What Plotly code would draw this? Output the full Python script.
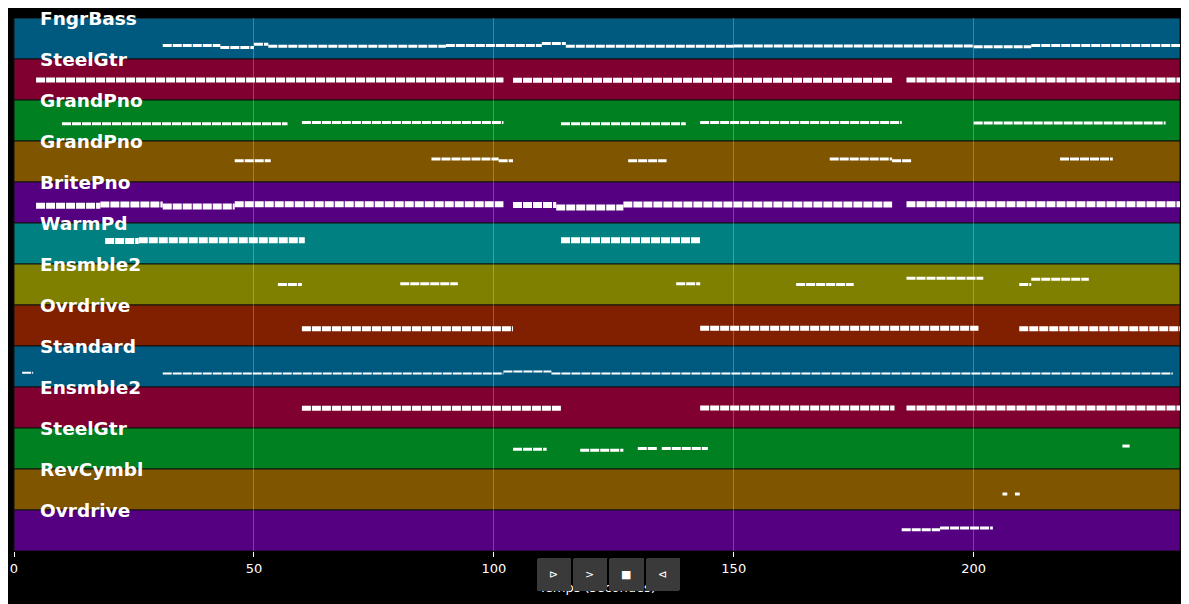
import plotly.graph_objects as go

### Data ---------------------------------------------------------

tracks = ["FngrBass", "SteelGtr", "GrandPno", "GrandPno", "BritePno", "WarmPd", "Ensmble2",
          "Ovrdrive", "Standard", "Ensmble2", "SteelGtr", "RevCymbl", "Ovrdrive"]
band_colors = ["#005a80", "#800030", "#008020", "#7f5500", "#550080", "#008080", "#808000",
               "#802000", "#005a80", "#800030", "#008020", "#7f5500", "#550080"]

# phrases per track: (start s, end s, pitch level inside band 0..1)
phrases = [
    [(31, 43, 0.33), (43, 50, 0.28), (50, 53, 0.36), (53, 90, 0.31), (90, 110, 0.33),
     (110, 115, 0.38), (115, 150, 0.31), (150, 200, 0.32), (200, 212, 0.30), (212, 243, 0.33)],
    [(4.6, 102, 0.49), (104, 183, 0.48), (186, 243, 0.49)],
    [(10, 57, 0.42), (60, 102, 0.45), (114, 140, 0.42), (143, 185, 0.45), (200, 240, 0.44)],
    [(46, 53.5, 0.52), (87, 101, 0.56), (101, 104, 0.52), (128, 136, 0.52), (170, 183, 0.56),
     (183, 187, 0.52), (218, 229, 0.56)],
    [(4.6, 18, 0.42), (18, 31, 0.45), (31, 46, 0.40), (46, 102, 0.46), (104, 113, 0.44),
     (113, 127, 0.38), (127, 183, 0.45), (186, 243, 0.46)],
    [(19, 26, 0.56), (26, 60.6, 0.58), (114, 143, 0.58)],
    [(55, 60, 0.50), (80.5, 92.5, 0.52), (138, 143, 0.52), (163, 175, 0.50), (186, 202, 0.65),
     (209.5, 212, 0.50), (212, 224, 0.63)],
    [(60, 104, 0.42), (143, 201, 0.43), (209.5, 243, 0.42)],
    [(1.7, 4, 0.35), (31, 102, 0.33), (102, 112, 0.38), (112, 241.5, 0.33)],
    [(60, 114, 0.48), (143, 183.5, 0.49), (186, 243, 0.49)],
    [(104, 111, 0.48), (118, 127, 0.46), (130, 134, 0.50), (135, 144.6, 0.50), (231, 232.5, 0.56)],
    [(206, 207, 0.39), (208.6, 209.6, 0.39)],
    [(185, 193, 0.52), (193, 204, 0.56)],
]

line_widths = [3, 5, 3, 3, 6, 6, 3, 5, 2, 5, 3, 3, 3]
x_ticks = [0, 50, 100, 150, 200]

### Figure -------------------------------------------------------

n = len(tracks)
fig = go.Figure()

shapes = []
annotations = []
for i, name in enumerate(tracks):
    top = n - i
    shapes.append(dict(type="rect", xref="paper", yref="y", x0=0, x1=1, y0=top - 1, y1=top,
                       fillcolor=band_colors[i], line=dict(color="#111111", width=1), layer="below"))
    annotations.append(dict(x=5, y=top, xref="x", yref="y", text="<b>" + name + "</b>",
                            showarrow=False, xanchor="left", yanchor="middle",
                            font=dict(color="white", size=18.5, family="DejaVu Sans")))
    xs, ys = [], []
    for s, e, lvl in phrases[i]:
        xs += [s, e, None]
        ys += [top - 1 + lvl, top - 1 + lvl, None]
    fig.add_trace(go.Scatter(x=xs, y=ys, mode="lines", showlegend=False, hoverinfo="skip",
                             line=dict(color="white", width=line_widths[i], dash="9px,1px")))

annotations.append(dict(x=0.5, y=-0.068, xref="paper", yref="paper", text="Temps (secondes)",
                        showarrow=False, yanchor="middle", font=dict(color="white", size=13)))

fig.update_layout(
    width=1181, height=596,
    paper_bgcolor="black", plot_bgcolor="black",
    margin=dict(l=6, r=9, t=10, b=53, autoexpand=False),
    shapes=shapes, annotations=annotations,
    xaxis=dict(range=[0, 243], tickvals=x_ticks, showgrid=True, gridcolor="rgba(255,255,255,0.25)",
               zeroline=False, color="white", ticks="outside", ticklen=5, tickcolor="white",
               layer="above traces", automargin=False, tickfont=dict(size=13)),
    yaxis=dict(range=[0, n], visible=False, fixedrange=True, automargin=False),
    font=dict(family="DejaVu Sans", color="white", size=13),
    updatemenus=[dict(type="buttons", direction="left", x=0.51, y=-0.045, xanchor="center",
                      yanchor="middle", bgcolor="#3a3a3a", bordercolor="#3a3a3a", borderwidth=0,
                      font=dict(color="white", size=11), pad=dict(l=0, r=0, t=0, b=0),
                      showactive=False,
                      buttons=[dict(label="⊳", method="skip"), dict(label=">", method="skip"),
                               dict(label="■", method="skip"), dict(label="⊲", method="skip")])],
)

fig.write_html("out.html")
